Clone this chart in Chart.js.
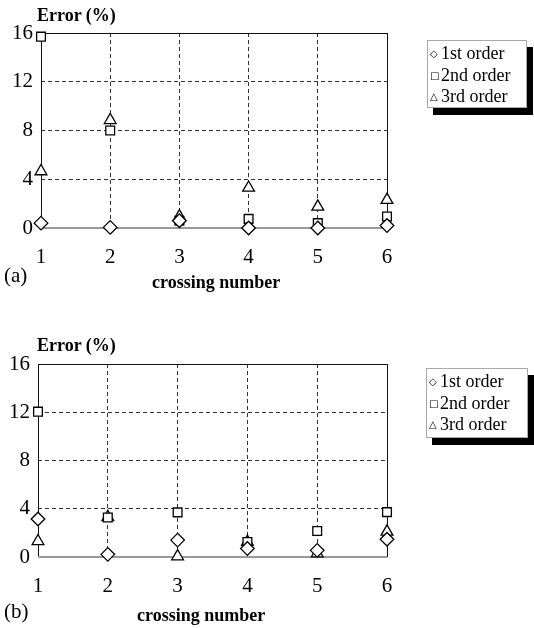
<!DOCTYPE html>
<html>
<head>
<meta charset="utf-8">
<script src="https://cdn.jsdelivr.net/npm/chart.js@4/dist/chart.umd.min.js"></script>
<style>
  html, body { margin:0; padding:0; background:#fff; }
  body { width:534px; height:628px; position:relative; overflow:hidden; font-family:"Liberation Serif","Times New Roman",serif; color:#000; }
  canvas { position:absolute; left:0; }
  .lbl { position:absolute; white-space:nowrap; line-height:1; }
  .bold { font-weight:bold; font-size:18px; }
  .panel { font-size:21px; }
  .legend { position:absolute; background:#fff; border:1px solid #aaa; box-shadow:6px 7px 0 #000; font-size:18px; line-height:21.5px; padding:2px 0 0 2px; box-sizing:border-box; }
  .legend .sym { font-family:"DejaVu Sans",sans-serif; font-size:10px; display:inline-block; width:11px; vertical-align:2px; }
</style>
</head>
<body>
<canvas id="c1" width="534" height="300" style="top:0px"></canvas>
<canvas id="c2" width="534" height="300" style="top:314px"></canvas>

<div class="lbl bold" style="left:37px; top:6px;">Error (%)</div>
<div class="lbl panel" style="left:4px; top:265px;">(a)</div>
<div class="lbl bold" style="left:152px; top:273px;">crossing number</div>
<div class="legend" style="left:427px; top:40px; width:100px; height:68px;">
  <div><span class="sym">◇</span>1st order</div>
  <div><span class="sym">□</span>2nd order</div>
  <div><span class="sym">△</span>3rd order</div>
</div>

<div class="lbl bold" style="left:37px; top:336px;">Error (%)</div>
<div class="lbl panel" style="left:4px; top:601px;">(b)</div>
<div class="lbl bold" style="left:137px; top:606px;">crossing number</div>
<div class="legend" style="left:426px; top:368px; width:102px; height:70px;">
  <div><span class="sym">◇</span>1st order</div>
  <div><span class="sym">□</span>2nd order</div>
  <div><span class="sym">△</span>3rd order</div>
</div>

<script>
// ---- data ----
const crossing = [1, 2, 3, 4, 5, 6];
const yTicks = [0, 4, 8, 12, 16];
const seriesNames = ['1st order', '2nd order', '3rd order'];

// panel (a)
const a_first  = [0.4, 0.05, 0.6, 0.0, 0.0, 0.2];
const a_second = [15.7, 8.0, 0.6, 0.75, 0.4, 0.95];
const a_third  = [4.65, 8.85, 0.95, 3.3, 1.75, 2.3];

// panel (b)
const b_first  = [3.15, 0.22, 1.4, 0.7, 0.55, 1.47];
const b_second = [12.05, 3.27, 3.7, 1.25, 2.15, 3.72];
const b_third  = [1.3, 3.3, 0.05, 1.25, 0.3, 2.1];

// ---- drawing ----
const framePlugin = {
  id: 'frame',
  beforeDatasetsDraw(chart) {
    const { ctx, chartArea: { left, right, top, bottom } } = chart;
    ctx.save();
    ctx.strokeStyle = '#111';
    ctx.lineWidth = 1;
    ctx.beginPath();
    ctx.moveTo(left + 0.5, bottom);
    ctx.lineTo(left + 0.5, top + 0.5);
    ctx.lineTo(right + 0.5, top + 0.5);
    ctx.lineTo(right + 0.5, bottom);
    ctx.stroke();
    ctx.strokeStyle = '#999';
    ctx.lineWidth = 2;
    ctx.beginPath();
    ctx.moveTo(left, bottom);
    ctx.lineTo(right, bottom);
    ctx.stroke();
    ctx.restore();
  }
};

function toPoints(vals) { return crossing.map((x, i) => ({ x: x, y: vals[i] })); }

function makeChart(id, d1, d2, d3, g) {
  const H = 300;
  const styles = [
    { pointStyle: 'rectRot', radius: 6.8 },
    { pointStyle: 'rect', radius: 6.2 },
    { pointStyle: 'triangle', radius: 6.8 }
  ];
  const sets = [d1, d2, d3].map((d, k) => ({
    label: seriesNames[k],
    data: toPoints(d),
    showLine: false,
    pointStyle: styles[k].pointStyle,
    pointRadius: styles[k].radius,
    pointBorderColor: '#000',
    pointBackgroundColor: '#fff',
    pointBorderWidth: 1.3,
    clip: false
  }));
  const tickFont = { family: "'Liberation Serif', 'Times New Roman', serif", size: 21 };
  return new Chart(document.getElementById(id), {
    type: 'scatter',
    data: { datasets: sets },
    options: {
      responsive: false,
      animation: false,
      layout: { padding: { left: 0, top: g.top, right: 534 - g.right, bottom: 0 } },
      plugins: { legend: { display: false }, tooltip: { enabled: false } },
      scales: {
        x: {
          type: 'linear', min: crossing[0], max: crossing[crossing.length - 1],
          ticks: { stepSize: 1, font: tickFont, color: '#000', padding: 17 },
          grid: { color: '#333', lineWidth: 1, drawTicks: false },
          border: { display: false, dash: [4, 3] },
          afterFit: s => { s.height = H - g.bottom; }
        },
        y: {
          type: 'linear', min: yTicks[0], max: yTicks[yTicks.length - 1],
          ticks: { stepSize: yTicks[1] - yTicks[0], font: tickFont, color: '#000', padding: 8 },
          grid: { color: '#333', lineWidth: 1, drawTicks: false },
          border: { display: false, dash: [4, 3] },
          afterFit: s => { s.width = g.left; }
        }
      }
    },
    plugins: [framePlugin]
  });
}

makeChart('c1', a_first, a_second, a_third, { left: 41, right: 387, top: 33, bottom: 228 });
makeChart('c2', b_first, b_second, b_third, { left: 38, right: 387, top: 50, bottom: 243 });
</script>
</body>
</html>
